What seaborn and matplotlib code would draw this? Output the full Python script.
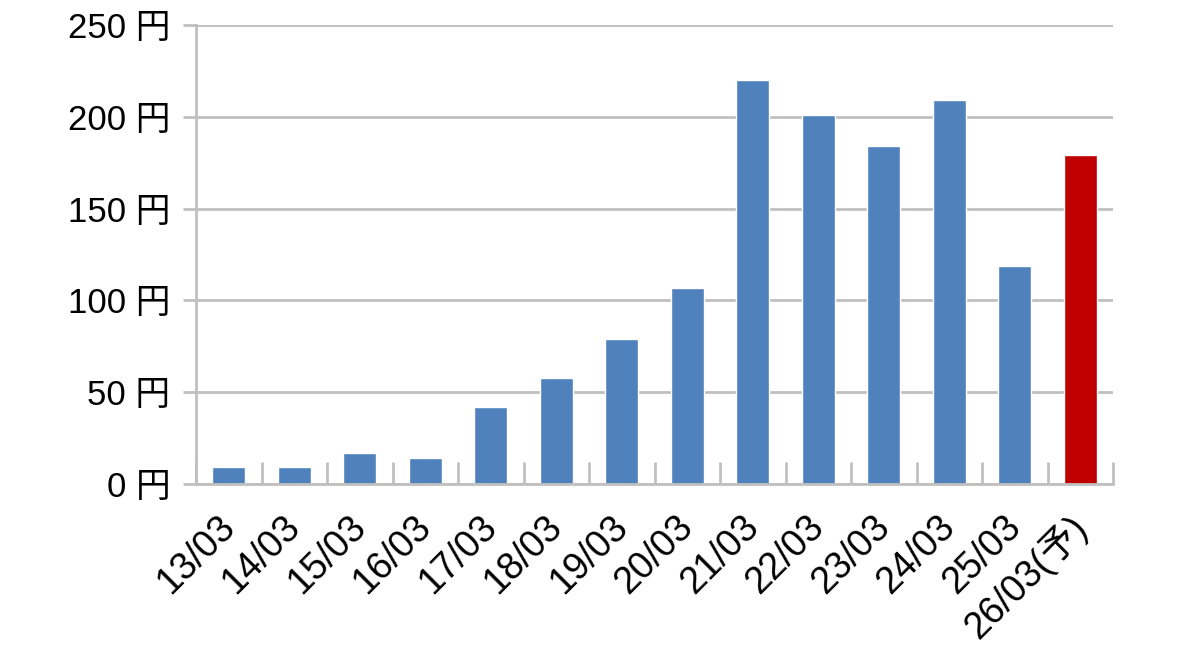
import matplotlib
matplotlib.use('Agg')
import matplotlib.pyplot as plt
import matplotlib.transforms as mtransforms
import seaborn as sns
import pandas as pd
import numpy as np

dates = ['13/03', '14/03', '15/03', '16/03', '17/03', '18/03', '19/03',
         '20/03', '21/03', '22/03', '23/03', '24/03', '25/03', '26/03(予)']
prices = [9, 9, 17, 14, 42, 58, 79, 107, 220, 201, 184, 209, 119, 179]
is_forecast = [False] * 13 + [True]
y_ticks = [0, 50, 100, 150, 200, 250]

sns.set_theme(style='white')
plt.rcParams['font.family'] = ['Liberation Sans', 'Noto Sans CJK JP']
plt.rcParams['text.color'] = 'black'

df = pd.DataFrame({'date': dates, 'price': prices,
                   'kind': ['予' if f else '実' for f in is_forecast]})

grid_c = '#C0C0C0'
fig = plt.figure(figsize=(11.79, 6.52), dpi=100)
ax = fig.add_axes([196 / 1179, 1 - 484 / 652, (1113 - 196) / 1179, (484 - 25) / 652])

sns.barplot(data=df, x='date', y='price', hue='kind',
            palette={'実': '#4F81BD', '予': '#C00000'},
            width=0.5, dodge=False, legend=False, ax=ax, saturation=1)

ax.set_ylim(0, 250)
ax.set_xlim(-0.5, len(dates) - 0.5)
ax.set_yticks(y_ticks)
ax.set_yticklabels([f'{v} 円' for v in y_ticks])
ax.yaxis.grid(True, color=grid_c, linewidth=2)
ax.set_axisbelow(True)
ax.set_xlabel('')
ax.set_ylabel('')

for s in ['top', 'right']:
    ax.spines[s].set_visible(False)
for s in ['left', 'bottom']:
    ax.spines[s].set_color(grid_c)
    ax.spines[s].set_linewidth(2)

ax.tick_params(axis='y', which='major', length=9.4, width=2, color=grid_c,
               labelsize=25, pad=9, left=True, labelcolor='black')
ax.tick_params(axis='x', which='major', length=0, labelsize=27, pad=18,
               labelcolor='black')
ax.set_xticks(np.arange(-0.5, len(dates), 1), minor=True)
ax.tick_params(axis='x', which='minor', direction='in', length=16,
               width=2, color=grid_c, bottom=True)

shift = mtransforms.ScaledTranslation(-9 / 72, 0, fig.dpi_scale_trans)
for lab in ax.get_xticklabels():
    lab.set_rotation(45)
    lab.set_ha('right')
    lab.set_va('top')
    lab.set_rotation_mode('anchor')
    lab.set_transform(lab.get_transform() + shift)

fig.savefig('out.png', dpi=100)
